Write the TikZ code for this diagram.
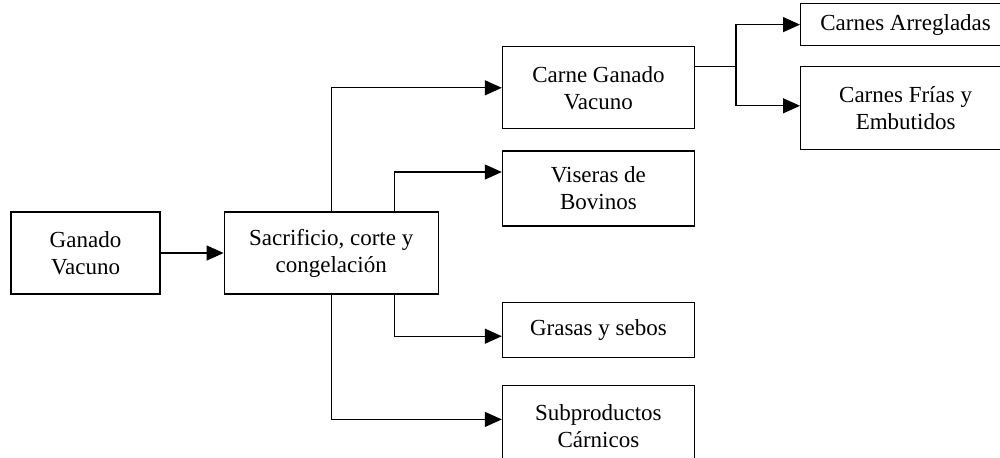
\documentclass[tikz,border=0pt]{standalone}
\usepackage{fontspec}
\setmainfont{Liberation Serif}
\usetikzlibrary{positioning,arrows.meta}
\begin{document}
\begin{tikzpicture}[node distance=10pt,
  box/.style={draw, line width=0.6pt, align=center, inner sep=0pt,
    font=\fontsize{11.5}{13.5}\selectfont},
  flow/.style={-{Triangle[length=8.5pt,width=7.5pt]}, line width=0.65pt}]
  \useasboundingbox (0,0) rectangle (500pt,-228.5pt);
  \node(gan) [box, minimum width=74.5pt, minimum height=41pt] at (42.75pt,-126.5pt) {Ganado\\Vacuno};
  \node(sac) [box, minimum width=107pt, minimum height=41pt, right=31.5pt of gan] {Sacrificio, corte y\\congelación};
  \node(carne) [box, minimum width=96pt, minimum height=41pt, above right=41pt and 31.5pt of sac] {Carne Ganado\\Vacuno};
  \node(vis) [box, minimum width=96pt, minimum height=37.5pt, below=10.5pt of carne] {Viseras de\\Bovinos};
  \node(gras) [box, minimum width=96pt, minimum height=27.5pt, below=37.5pt of vis] {Grasas y sebos};
  \node(sub) [box, minimum width=96pt, minimum height=41pt, below=13.5pt of gras] {Subproductos\\Cárnicos};
  \node(arr) [box, minimum width=105pt, minimum height=21pt, above right=0pt and 52.5pt of carne.north east] {Carnes Arregladas};
  \node(fri) [box, minimum width=105pt, minimum height=41.5pt, below right=10pt and 0pt of arr.south west] {Carnes Frías y\\Embutidos};
  \coordinate(split) at ([xshift=20.5pt,yshift=10.5pt]carne.east);
  \draw[flow](gan) -- (sac);
  \draw[flow](sac.north) |- (carne);
  \draw[flow]([xshift=31.5pt]sac.north) |- ([yshift=8.25pt]vis.west);
  \draw[flow]([xshift=31.5pt]sac.south) |- ([yshift=-3.25pt]gras.west);
  \draw[flow](sac.south) |- ([yshift=3.5pt]sub.west);
  \draw[line width=0.65pt]([yshift=10.5pt]carne.east) -- (split);
  \draw[flow](split) |- (arr);
  \draw[flow](split) |- ([yshift=1.25pt]fri.west);
\end{tikzpicture}
\end{document}
